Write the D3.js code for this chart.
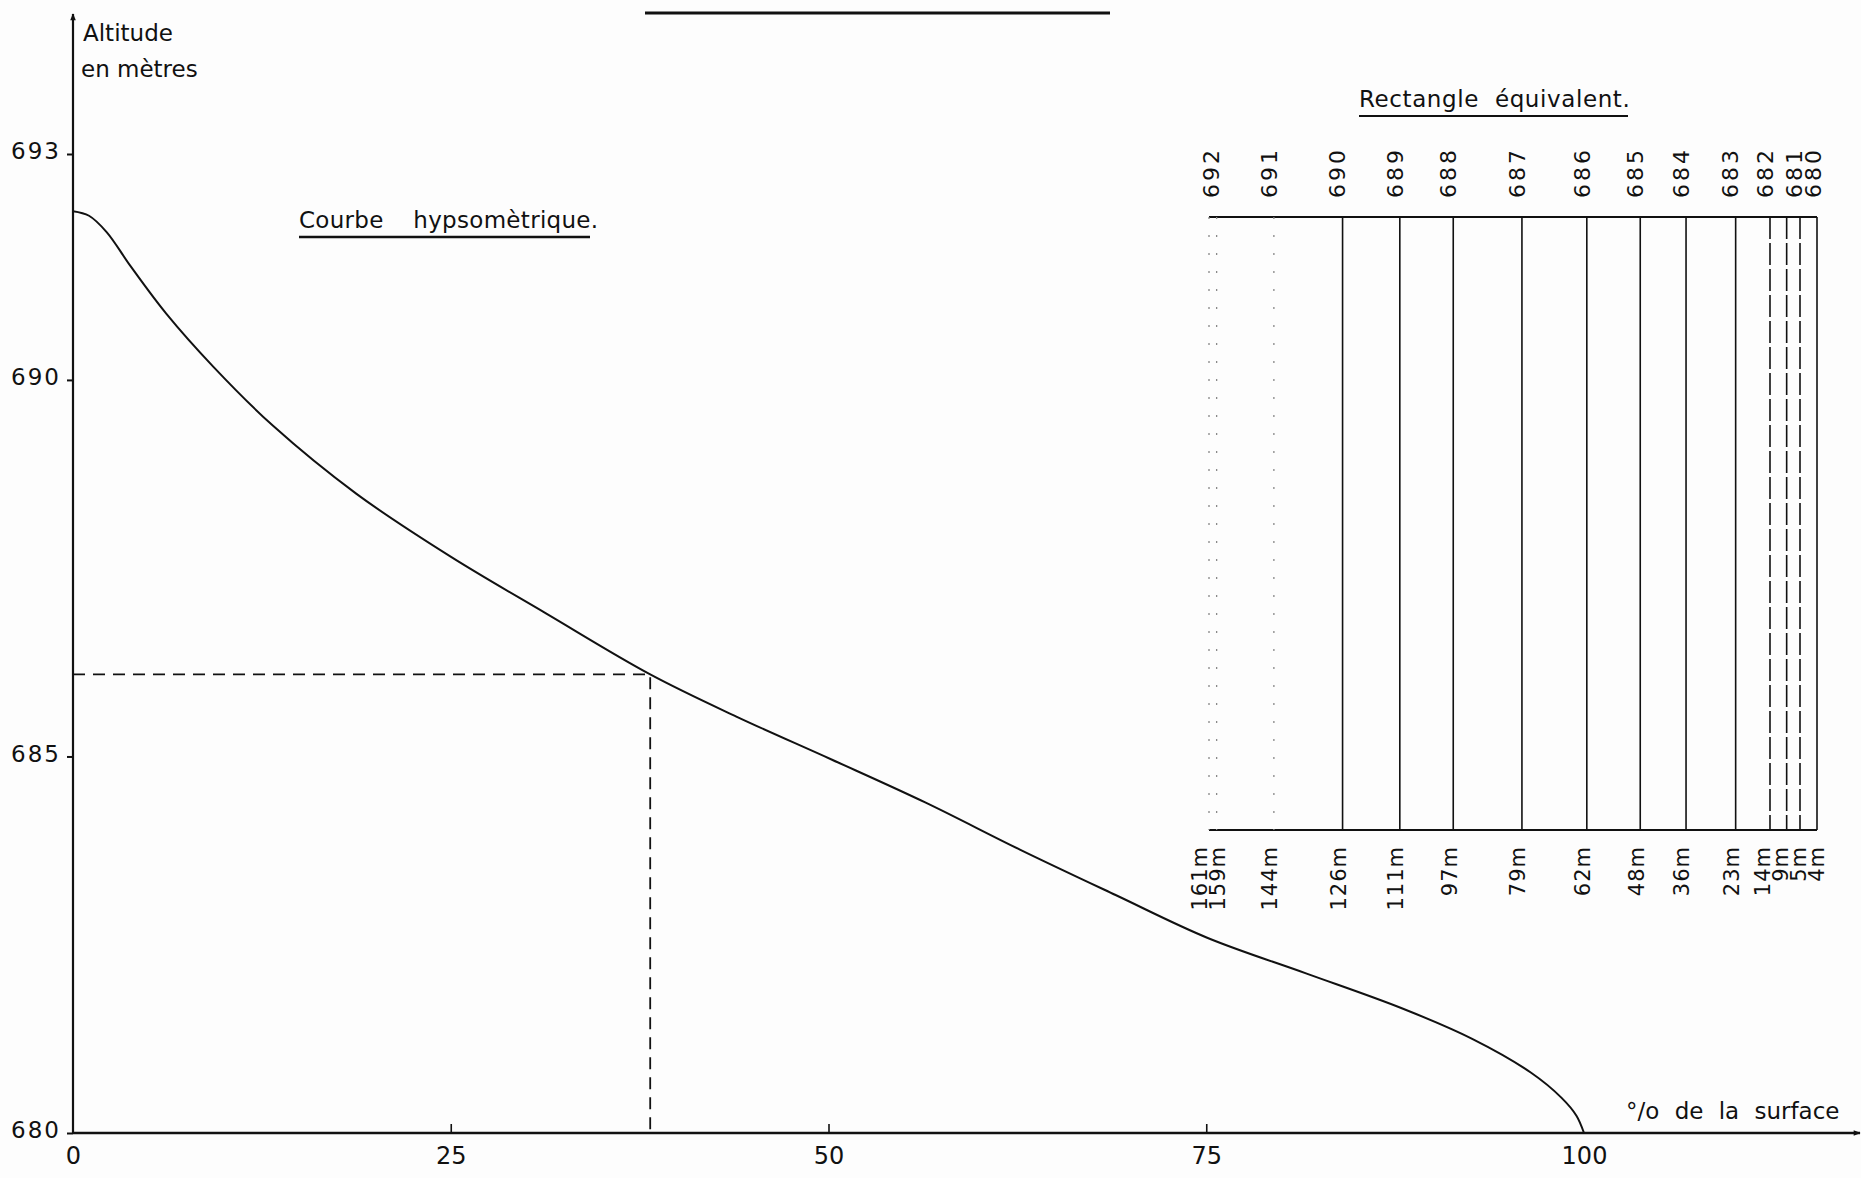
<!DOCTYPE html>
<html>
<head>
<meta charset="utf-8">
<script src="https://cdn.jsdelivr.net/npm/d3@7/dist/d3.min.js"></script>
<style>
  html, body { margin: 0; padding: 0; background: #fdfdfd; }
  svg { display: block; }
  text { font-family: "DejaVu Sans", sans-serif; fill: #111; }
</style>
</head>
<body>
<svg id="chart" width="1861" height="1178"></svg>
<script>
// Hypsometric curve: percentage of basin surface lying above each altitude
const surfacePct = [0, 1.06, 2.24, 3.81, 6.17, 9.31, 13.24, 18.74, 25.02, 31.3, 38.2, 43.9,
  50.2, 56.4, 62.7, 69.0, 75.1, 81.6, 87.9, 92.6, 96.5, 98.5, 99.5, 100];
const altitudeM = [692.24, 692.18, 691.96, 691.51, 690.88, 690.17, 689.39, 688.49, 687.65,
  686.9, 686.09, 685.53, 684.96, 684.39, 683.76, 683.16, 682.59, 682.12, 681.66, 681.25,
  680.8, 680.47, 680.23, 680.0];

// Reading marked on the curve with dashed guides
const guidePct = 38.2;
const guideAlt = 686.09;

// Axis ticks
const altTicks = [680, 685, 690, 693];
const pctTicks = [0, 25, 50, 75, 100];

// Equivalent rectangle: distance (m) of each contour boundary
const rectDist = [161, 159, 144, 126, 111, 97, 79, 62, 48, 36, 23, 14, 9, 5, 4];
// Contour altitudes written above the rectangle, and the boundary each one sits against
const rectAlt = [692, 691, 690, 689, 688, 687, 686, 685, 684, 683, 682, 681, 680];
const rectAltAt = [159, 144, 126, 111, 97, 79, 62, 48, 36, 23, 14, 5, 4];

const svg = d3.select("#chart");
const FONT = '"DejaVu Sans", sans-serif';

const x = d3.scaleLinear().domain([0, 100]).range([73, 1584]);
const y = d3.scaleLinear().domain([680, 693]).range([1133, 154]);

// Arrow head for the axes
svg.append("defs").append("marker")
  .attr("id", "arrow").attr("viewBox", "0 0 10 10")
  .attr("refX", 9).attr("refY", 5)
  .attr("markerWidth", 9).attr("markerHeight", 7)
  .attr("markerUnits", "userSpaceOnUse")
  .attr("orient", "auto")
  .append("path").attr("d", "M0,1 L10,5 L0,9 z").attr("fill", "#111");

// Axis lines
svg.append("line")
  .attr("x1", x(0)).attr("y1", y(680)).attr("x2", x(0)).attr("y2", 14)
  .attr("stroke", "#111").attr("stroke-width", 2.2).attr("marker-end", "url(#arrow)");
svg.append("line")
  .attr("x1", x(0)).attr("y1", y(680)).attr("x2", 1860).attr("y2", y(680))
  .attr("stroke", "#111").attr("stroke-width", 2.6).attr("marker-end", "url(#arrow)");

// Bottom axis: small upward ticks, labels below
const xAxis = svg.append("g")
  .attr("transform", `translate(0,${y(680)})`)
  .call(d3.axisBottom(x).tickValues(pctTicks).tickSize(-9).tickPadding(14));
xAxis.select(".domain").remove();
xAxis.selectAll(".tick line").attr("stroke", "#111").attr("stroke-width", 1.6)
  .filter(d => d === 0 || d === 100).remove();
xAxis.selectAll("text").attr("font-size", 24).attr("fill", "#111").style("font-family", FONT);

// Left axis: short stubs to the left, labels sitting on the tick
const yAxis = svg.append("g")
  .attr("transform", `translate(${x(0)},0)`)
  .call(d3.axisLeft(y).tickValues(altTicks).tickSize(6).tickPadding(6));
yAxis.select(".domain").remove();
yAxis.selectAll(".tick line").attr("stroke", "#111").attr("stroke-width", 2);
yAxis.selectAll("text").attr("font-size", 23).attr("dy", "0.2em").attr("letter-spacing", 2)
  .attr("fill", "#111").style("font-family", FONT);

// Axis titles
svg.append("text").attr("x", 83).attr("y", 41).attr("font-size", 23).text("Altitude");
svg.append("text").attr("x", 81).attr("y", 77).attr("font-size", 23).text("en mètres");
svg.append("text").attr("x", 1626).attr("y", 1119).attr("font-size", 23)
  .attr("word-spacing", 8).text("°/o  de la surface");

// Title rule along the top edge
svg.append("line").attr("x1", 645).attr("x2", 1110).attr("y1", 13).attr("y2", 13)
  .attr("stroke", "#111").attr("stroke-width", 3);

// Dashed guides to the marked point
svg.append("path")
  .attr("d", `M${x(0)},${y(guideAlt)} H${x(guidePct)} V${y(680)}`)
  .attr("fill", "none").attr("stroke", "#111").attr("stroke-width", 1.8)
  .attr("stroke-dasharray", "12 8");

// Hypsometric curve
const line = d3.line()
  .x((d, i) => x(surfacePct[i]))
  .y(d => y(d))
  .curve(d3.curveCatmullRom.alpha(0.5));
svg.append("path")
  .datum(altitudeM)
  .attr("d", line)
  .attr("fill", "none").attr("stroke", "#111").attr("stroke-width", 2);

// Curve label
svg.append("text").attr("x", 299).attr("y", 228).attr("font-size", 23)
  .attr("word-spacing", 22).attr("letter-spacing", 0.3).text("Courbe hypsomètrique.");
svg.append("line").attr("x1", 299).attr("x2", 590).attr("y1", 237).attr("y2", 237)
  .attr("stroke", "#111").attr("stroke-width", 2.4);

// Equivalent rectangle (the narrow end bands are drawn wider than scale)
const xr = d3.scaleLinear().domain([161, 14, 5, 4]).range([1209, 1770, 1800, 1817]);
const rTop = 217, rBottom = 830;

svg.append("text").attr("x", 1359).attr("y", 107).attr("font-size", 23)
  .attr("word-spacing", 8).attr("letter-spacing", 0.6).text("Rectangle équivalent.");
svg.append("line").attr("x1", 1359).attr("x2", 1628).attr("y1", 116).attr("y2", 116)
  .attr("stroke", "#111").attr("stroke-width", 2.2);

// Push crowded rotated labels apart so they keep a minimum spacing
function spread(xs, gap) {
  const p = xs.slice();
  for (let it = 0; it < 60; it++) {
    for (let i = 1; i < p.length; i++) {
      const d = p[i] - p[i - 1];
      if (d < gap) { const m = (gap - d) / 2; p[i - 1] -= m; p[i] += m; }
    }
  }
  return p;
}

const rect = svg.append("g");
rect.append("line").attr("x1", xr(161)).attr("x2", xr(4)).attr("y1", rTop).attr("y2", rTop)
  .attr("stroke", "#111").attr("stroke-width", 2);
rect.append("line").attr("x1", xr(161)).attr("x2", xr(4)).attr("y1", rBottom).attr("y2", rBottom)
  .attr("stroke", "#111").attr("stroke-width", 2);

rect.selectAll("line.bound")
  .data(rectDist)
  .join("line")
  .attr("class", "bound")
  .attr("x1", d => xr(d)).attr("x2", d => xr(d))
  .attr("y1", rTop).attr("y2", rBottom)
  .attr("stroke", (d, i) => i < 3 ? "#888" : "#111")
  .attr("stroke-width", (d, i) => i < 3 ? 1.3 : 1.6)
  .attr("stroke-dasharray", (d, i) => i < 3 ? "2 16" : (i >= 11 && i < 14 ? "22 4" : null));

// Distances below the rectangle, aligned on their top end
const distX = spread(rectDist.map(d => xr(d) - 4), 18);
rect.selectAll("text.dist")
  .data(rectDist)
  .join("text")
  .attr("class", "dist")
  .attr("font-size", 21)
  .attr("text-anchor", "end")
  .attr("transform", (d, i) => `translate(${distX[i]},846) rotate(-90)`)
  .attr("dy", "0.35em")
  .attr("letter-spacing", 1)
  .text(d => d + "m");

// Contour altitudes above the rectangle
const altX = spread(rectAltAt.map(d => xr(d) - 5), 19);
rect.selectAll("text.alt")
  .data(rectAlt)
  .join("text")
  .attr("class", "alt")
  .attr("font-size", 22)
  .attr("transform", (d, i) => `translate(${altX[i]},198) rotate(-90)`)
  .attr("dy", "0.35em")
  .attr("letter-spacing", 3)
  .text(d => d);
</script>
</body>
</html>
